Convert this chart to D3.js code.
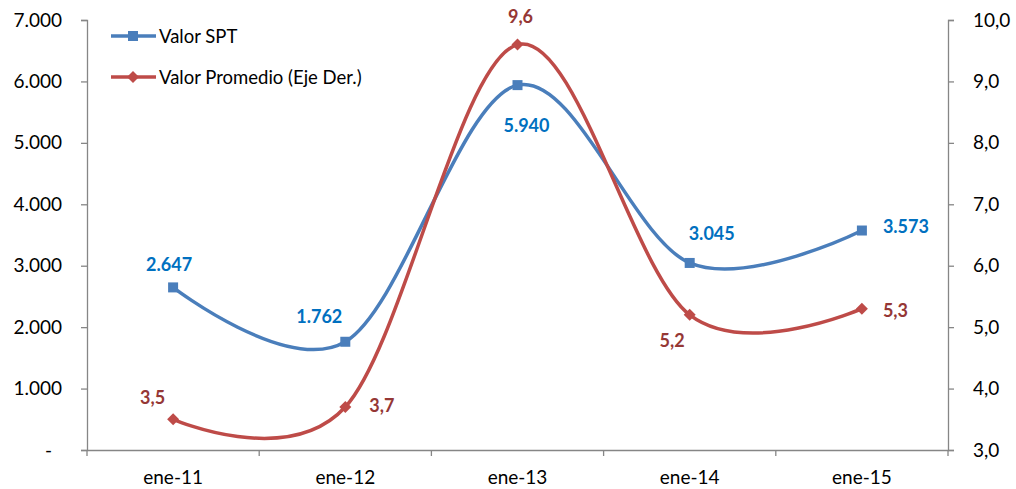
<!DOCTYPE html>
<meta charset="utf-8">
<script src="https://cdn.jsdelivr.net/npm/d3@7"></script>
<style>
  body { margin: 0; background: #fff; }
  text { font-family: Lato, "Open Sans", sans-serif; }
</style>
<div id="chart"></div>
<script>

// data
var categories = ["ene-11", "ene-12", "ene-13", "ene-14", "ene-15"];
var valorSPT = [2647, 1762, 5940, 3045, 3573];
var valorPromedio = [3.5, 3.7, 9.6, 5.2, 5.3];
var leftTicks = [0, 1000, 2000, 3000, 4000, 5000, 6000, 7000];
var rightTicks = [3, 4, 5, 6, 7, 8, 9, 10];
var seriesNames = ["Valor SPT", "Valor Promedio (Eje Der.)"];

// label placement relative to each point: [dx, dy, anchor]
var sptLabelPos = [[-4, -16, "middle"], [-3, -19, "end"], [9, 47, "middle"], [22, -23, "middle"], [21, 2, "start"]];
var promLabelPos = [[-8, -15, "end"], [24, 5, "start"], [3, -22, "middle"], [-5, 32, "end"], [21, 8, "start"]];

var W = 1016, H = 489;
var margin = {top: 20, right: 68, bottom: 39, left: 87};
var width = W - margin.left - margin.right,
    height = H - margin.top - margin.bottom;

var blue = "#4A7EBB", red = "#BE4B48";
var blueText = "#0070C0", redText = "#953735";
var axisGray = "#868686";

var svg = d3.select("#chart").append("svg")
    .attr("width", W).attr("height", H)
  .append("g")
    .attr("transform", "translate(" + margin.left + "," + margin.top + ")");

var x = d3.scaleBand().domain(categories).range([0, width]);
var yL = d3.scaleLinear().domain([0, 7000]).range([height, 0]);
var yR = d3.scaleLinear().domain([3, 10]).range([height, 0]);

var fmtL = function(d) { return d === 0 ? "-" : d3.format(",")(d).replace(/,/g, "."); };
var fmtR = function(d) { return d3.format(".1f")(d).replace(".", ","); };

// left axis
var gL = svg.append("g")
  .call(d3.axisLeft(yL).tickValues(leftTicks).tickFormat(fmtL).tickSizeOuter(0).tickSize(6).tickPadding(19));
gL.selectAll("text").filter(function(d) { return d === 0; }).attr("dx", -10);

// right axis
var gR = svg.append("g")
  .attr("transform", "translate(" + width + ",0)")
  .call(d3.axisRight(yR).tickValues(rightTicks).tickFormat(fmtR).tickSizeOuter(0).tickSize(6).tickPadding(19));

// bottom axis: ticks on category boundaries
var gB = svg.append("g")
  .attr("transform", "translate(0," + height + ")")
  .call(d3.axisBottom(x).tickSize(0).tickPadding(21));
var bounds = d3.range(categories.length + 1).map(function(i) { return i * x.bandwidth(); });
gB.selectAll(".bound").data(bounds).enter().append("line")
  .attr("x1", d => d).attr("x2", d => d).attr("y1", 0).attr("y2", 6)
  .attr("stroke", axisGray);

[gL, gR, gB].forEach(function(g) {
  g.selectAll("path, line").attr("stroke", axisGray).attr("stroke-width", 1.3);
  g.selectAll("text").attr("fill", "#000").style("font-size", "19px").style("font-family", "Lato, sans-serif");
});

var cx = function(i) { return x(categories[i]) + x.bandwidth() / 2; };

// Excel-style smoothed line
var line = d3.line().curve(d3.curveCardinal.tension(0));

// Valor SPT
svg.append("path")
  .attr("d", line(valorSPT.map((v, i) => [cx(i), yL(v)])))
  .attr("fill", "none").attr("stroke", blue).attr("stroke-width", 3.5);

// Valor Promedio
svg.append("path")
  .attr("d", line(valorPromedio.map((v, i) => [cx(i), yR(v)])))
  .attr("fill", "none").attr("stroke", red).attr("stroke-width", 3.5);

svg.selectAll(".sq").data(valorSPT).enter().append("rect")
  .attr("x", (d, i) => cx(i) - 5).attr("y", d => yL(d) - 5)
  .attr("width", 10).attr("height", 10).attr("fill", blue);

var diamond = "M0,-6L6,0L0,6L-6,0Z";
svg.selectAll(".dm").data(valorPromedio).enter().append("path")
  .attr("d", diamond)
  .attr("transform", (d, i) => "translate(" + cx(i) + "," + yR(d) + ")")
  .attr("fill", red);

svg.selectAll(".lblB").data(valorSPT).enter().append("text")
  .attr("x", (d, i) => cx(i) + sptLabelPos[i][0])
  .attr("y", (d, i) => yL(d) + sptLabelPos[i][1])
  .attr("text-anchor", (d, i) => sptLabelPos[i][2])
  .attr("fill", blueText).style("font-size", "18px").style("font-weight", "bold")
  .text(d => d3.format(",")(d).replace(/,/g, "."));

svg.selectAll(".lblR").data(valorPromedio).enter().append("text")
  .attr("x", (d, i) => cx(i) + promLabelPos[i][0])
  .attr("y", (d, i) => yR(d) + promLabelPos[i][1])
  .attr("text-anchor", (d, i) => promLabelPos[i][2])
  .attr("fill", redText).style("font-size", "18px").style("font-weight", "bold")
  .text(d => fmtR(d));

// legend
var legend = svg.append("g").attr("transform", "translate(24,16)");
seriesNames.forEach(function(name, i) {
  var g = legend.append("g").attr("transform", "translate(0," + (i * 41) + ")");
  g.append("line").attr("x1", 0).attr("x2", 45).attr("y1", 0).attr("y2", 0)
    .attr("stroke", i === 0 ? blue : red).attr("stroke-width", 3.5);
  if (i === 0) {
    g.append("rect").attr("x", 17).attr("y", -5).attr("width", 10).attr("height", 10).attr("fill", blue);
  } else {
    g.append("path").attr("d", diamond)
      .attr("transform", "translate(22,0)").attr("fill", red);
  }
  g.append("text").attr("x", 48).attr("y", 7).style("font-size", "18.5px").attr("fill", "#000").text(name);
});

</script>
